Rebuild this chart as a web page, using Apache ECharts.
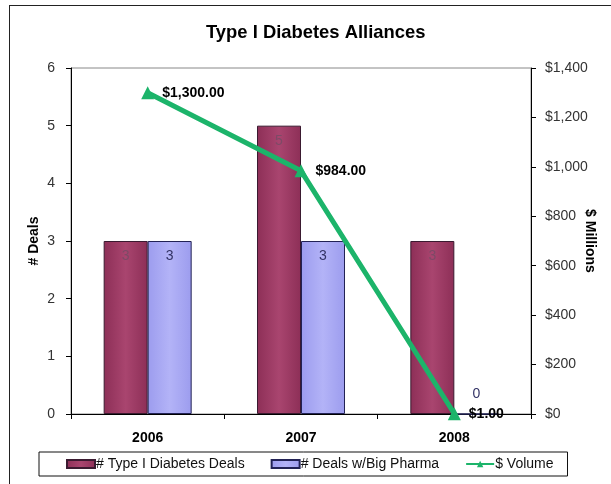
<!DOCTYPE html>
<html>
<head>
<meta charset="utf-8">
<script src="https://cdn.jsdelivr.net/npm/echarts@6/dist/echarts.min.js"></script>
<style>
  html, body { margin: 0; padding: 0; background: #fff; overflow: hidden; }
  #frame { position: absolute; left: 9px; top: 5px; width: 620px; height: 500px; border: 1px solid #222; box-sizing: border-box; }
  #chart { position: absolute; left: 0; top: 0; width: 611px; height: 484px; }
</style>
</head>
<body>
<div id="frame"></div>
<div id="chart"></div>
<script>
const years = ['2006', '2007', '2008'];
const diabetesDeals = [3, 5, 3];
const bigPharmaDeals = [3, 3, 0];
const dollarVolume = [1300, 984, 1];
const dealTicks = [0, 1, 2, 3, 4, 5, 6];
const millionTicks = [0, 200, 400, 600, 800, 1000, 1200, 1400];

const FONT = '"Liberation Sans", Arial, sans-serif';

function money(v) {
  return '$' + v.toLocaleString('en-US', { minimumFractionDigits: 2, maximumFractionDigits: 2 });
}
function moneyTick(v) {
  return '$' + v.toLocaleString('en-US');
}

const redFill = new echarts.graphic.LinearGradient(0, 0, 1, 0, [
  { offset: 0, color: '#8d2f57' },
  { offset: 0.5, color: '#a9456f' },
  { offset: 1, color: '#8d2f57' }
]);
const blueFill = new echarts.graphic.LinearGradient(0, 0, 1, 0, [
  { offset: 0, color: '#9c9cee' },
  { offset: 0.5, color: '#b3b3f7' },
  { offset: 1, color: '#9c9cee' }
]);

const chart = echarts.init(document.getElementById('chart'), null, { renderer: 'canvas' });
chart.setOption({
  backgroundColor: 'transparent',
  animation: false,
  title: {
    text: 'Type I Diabetes Alliances',
    left: 206,
    top: 24,
    padding: 0,
    textStyle: { fontFamily: FONT, fontSize: 18.4, fontWeight: 'bold', color: '#000' }
  },
  grid: {
    left: 71, right: 80, top: 68, bottom: 70,
    containLabel: false,
    outerBoundsMode: 'none',
    show: true, borderColor: '#888', borderWidth: 1, backgroundColor: '#fff'
  },
  legend: {
    left: 39,
    top: 452,
    padding: [5, 14, 5, 27],
    itemGap: 26,
    itemWidth: 28,
    itemHeight: 8,
    borderColor: '#111',
    borderWidth: 1,
    textStyle: { fontFamily: FONT, fontSize: 14, color: '#111', padding: [0, 0, 0, -4] },
    data: [
      { name: '# Type I Diabetes Deals', icon: 'rect' },
      { name: '# Deals w/Big Pharma', icon: 'rect' },
      { name: '$ Volume' }
    ]
  },
  xAxis: {
    type: 'category',
    data: years,
    axisLine: { lineStyle: { color: '#000', width: 1 } },
    axisTick: { show: true, length: 5, lineStyle: { color: '#000' } },
    axisLabel: { fontFamily: FONT, fontSize: 14, fontWeight: 'bold', color: '#000', margin: 17 }
  },
  yAxis: [
    {
      type: 'value',
      min: dealTicks[0],
      max: dealTicks[dealTicks.length - 1],
      interval: 1,
      name: '# Deals',
      nameLocation: 'middle',
      nameGap: 30,
      nameMoveOverlap: false,
      nameTextStyle: { fontFamily: FONT, fontSize: 14, fontWeight: 'bold', color: '#000' },
      axisLine: { show: true, lineStyle: { color: '#000' } },
      axisTick: { show: true, length: 5, lineStyle: { color: '#000' } },
      splitLine: { show: false },
      axisLabel: { fontFamily: FONT, fontSize: 14, color: '#333', margin: 16 }
    },
    {
      type: 'value',
      min: millionTicks[0],
      max: millionTicks[millionTicks.length - 1],
      interval: 200,
      name: '$ Millions',
      nameLocation: 'middle',
      nameRotate: -90,
      nameGap: 52,
      nameMoveOverlap: false,
      nameTextStyle: { fontFamily: FONT, fontSize: 14, fontWeight: 'bold', color: '#000' },
      axisLine: { show: true, lineStyle: { color: '#000' } },
      axisTick: { show: true, length: 5, lineStyle: { color: '#000' } },
      splitLine: { show: false },
      axisLabel: { fontFamily: FONT, fontSize: 14, color: '#333', margin: 14, formatter: moneyTick }
    }
  ],
  series: [
    {
      name: '# Type I Diabetes Deals',
      type: 'bar',
      yAxisIndex: 0,
      data: diabetesDeals,
      barWidth: 44,
      barGap: '0%',
      itemStyle: { color: redFill, borderColor: '#3a1a30', borderWidth: 1 },
      label: { show: true, position: 'insideTop', distance: 8, fontFamily: FONT, fontSize: 14, color: '#7d4a66' }
    },
    {
      name: '# Deals w/Big Pharma',
      type: 'bar',
      yAxisIndex: 0,
      data: bigPharmaDeals.map(v => v === 0
        ? { value: v, label: { position: 'top', distance: 12 } }
        : v),
      barWidth: 44,
      barGap: '0%',
      itemStyle: { color: blueFill, borderColor: '#222255', borderWidth: 1 },
      label: { show: true, position: 'insideTop', distance: 8, fontFamily: FONT, fontSize: 14, color: '#333366' }
    },
    {
      name: '$ Volume',
      type: 'line',
      yAxisIndex: 1,
      data: dollarVolume,
      symbol: 'triangle',
      symbolSize: 13,
      lineStyle: { color: '#1cb46a', width: 5 },
      itemStyle: { color: '#1cb46a' },
      label: {
        show: true,
        position: 'right',
        distance: 8,
        fontFamily: FONT,
        fontSize: 14,
        fontWeight: 'bold',
        color: '#000',
        formatter: p => money(p.value)
      },
      z: 5
    }
  ]
});
</script>
</body>
</html>
